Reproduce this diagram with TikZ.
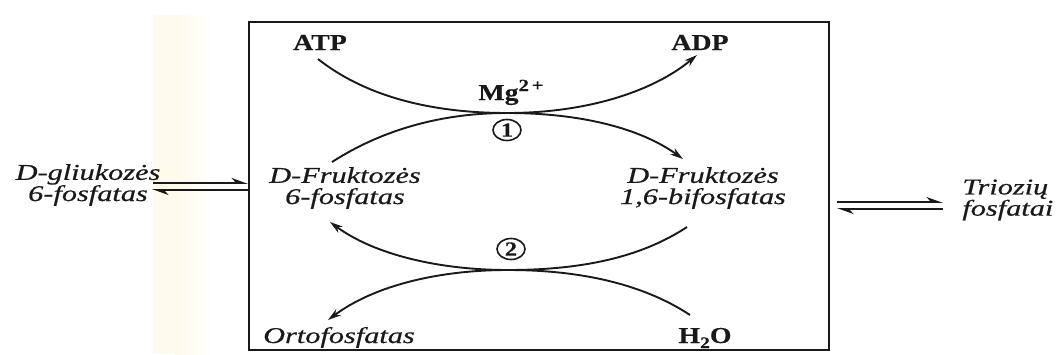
\documentclass[tikz,border=0pt]{standalone}
\usepackage{fontspec}
\setmainfont{Liberation Serif}
\newfontfamily\labfont[FakeStretch=1.34,FakeBold=0.6]{Liberation Serif}
\newfontfamily\chemfont[FakeStretch=1.22,FakeBold=0.3]{Liberation Serif}
\usetikzlibrary{arrows.meta,shapes.geometric}
\definecolor{ink}{RGB}{25,25,25}
\definecolor{band}{RGB}{254,250,236}
\begin{document}
\begin{tikzpicture}[x=0.5pt,y=-0.5pt,
  lab/.style={font=\labfont\itshape\fontsize{11.3}{10.6}\selectfont, align=center, inner sep=0pt, text=ink},
  chem/.style={font=\chemfont\bfseries\fontsize{11.4}{12}\selectfont, inner sep=0pt, text=ink},
  num/.style={ellipse, draw=ink, line width=0.8pt, minimum width=14pt, minimum height=10.5pt, inner sep=0pt, font=\chemfont\bfseries\fontsize{10}{10}\selectfont, text=ink},
  rxn/.style={draw=ink, line width=0.95pt, -{Stealth[length=6.5pt,width=3.8pt]}},
  eqarrow/.style={draw=ink, line width=0.9pt, -{Stealth[harpoon,length=7pt,width=5pt]}}]
\useasboundingbox (0,0) rectangle (1061,354);
% scanned page band
\fill[band] (153,15) rectangle (175,354);
\shade[left color=band, right color=white] (175,15) rectangle (215,354);
% frame
\node (box) [draw=ink, line width=0.9pt, minimum width=290pt, minimum height=164pt, inner sep=0pt] at (539,186) {};
% labels
\node[chem, anchor=base] (atp) at (320,50) {ATP};
\node[chem, anchor=base] (adp) at (700,50) {ADP};
\node[chem, anchor=base] (mg) at (511,100) {Mg\raisebox{4.5pt}{\fontsize{8.5}{8.5}\selectfont 2\,+}};
\node[num] (c1) at (507,130) {1};
\node[num] (c2) at (511,249) {2};
\node[lab] (f6p) at (345,188) {D-Fruktozės\\6-fosfatas};
\node[lab] (fbp) at (703,188) {D-Fruktozės\\1,6-bifosfatas};
\node[lab] (glu) at (88,185) {D-gliukozės\\6-fosfatas};
\node[lab, align=left, anchor=west] (trio) at (962,200) {Triozių\\fosfatai};
\node[lab, anchor=base] (orto) at (339,343) {Ortofosfatas};
\node[chem, anchor=base] (h2o) at (705,343) {H\raisebox{-2.5pt}{\fontsize{8}{8}\selectfont 2}O};
% curve ends
\coordinate (m1) at (507,113);
\coordinate (m2) at (508,270);
\coordinate (a0) at (318,59);
\coordinate (a1) at (697,55);
\coordinate (b0) at (332,162);
\coordinate (b1) at (683,159);
\coordinate (c0) at (687,227);
\coordinate (c1e) at (330,222);
\coordinate (d0) at (690,315);
\coordinate (d1) at (328,320);
% reaction 1
\draw[rxn] (a0) .. controls (370,100) and (440,113) .. (m1) .. controls (590,113) and (655,90) .. (a1);
\draw[rxn] (b0) .. controls (385,128) and (445,113) .. (m1) .. controls (580,113) and (640,128) .. (b1);
% reaction 2
\draw[rxn] (c0) .. controls (640,258) and (580,270) .. (m2) .. controls (440,270) and (375,255) .. (c1e);
\draw[rxn] (d0) .. controls (640,282) and (575,270) .. (m2) .. controls (440,270) and (375,285) .. (d1);
% equilibria
\coordinate (l1) at (153,183);
\coordinate (l2) at (152,190);
\draw[eqarrow] (l1) -- (l1 -| box.west);
\draw[eqarrow] (l2 -| box.west) -- (l2);
\coordinate (r1) at (943,202);
\coordinate (r2) at (837,209);
\draw[eqarrow] (r1 -| r2) -- (r1);
\draw[eqarrow] (r2 -| r1) -- (r2);
\end{tikzpicture}
\end{document}
